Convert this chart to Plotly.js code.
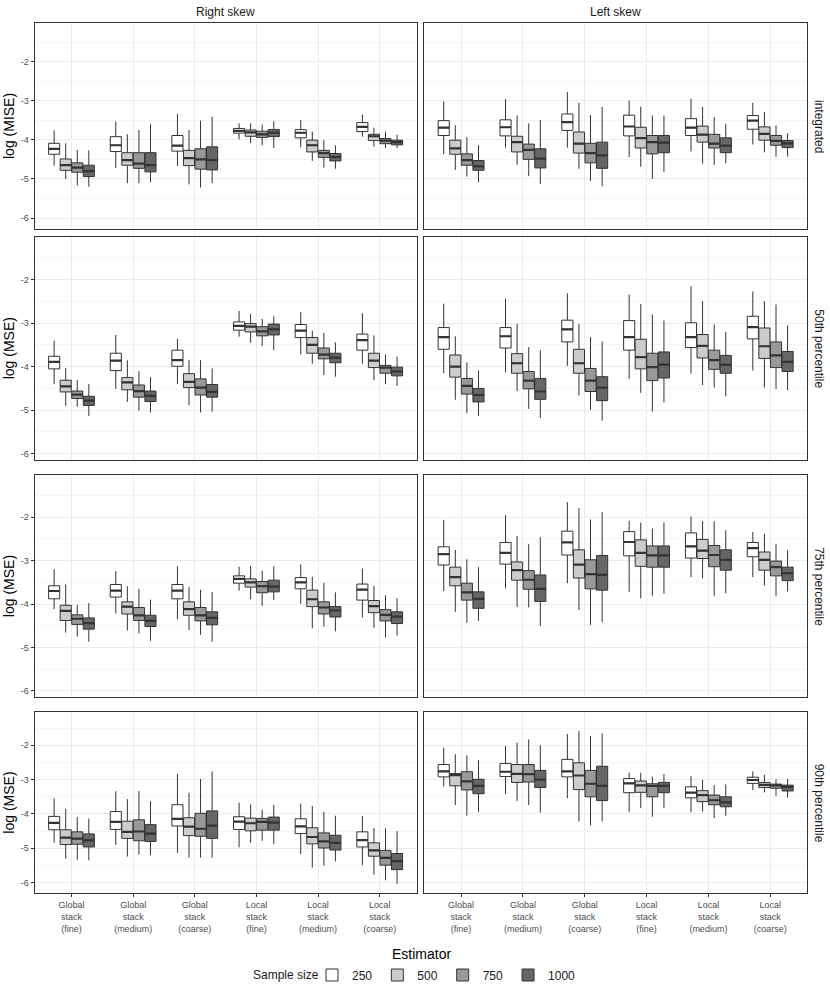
<!DOCTYPE html>
<html>
<head>
<meta charset="utf-8">
<script src="https://cdn.plot.ly/plotly-3.0.1.min.js"></script>
<style>html,body{margin:0;padding:0;background:#fff;} #chart{width:830px;height:997px;}</style>
</head>
<body>
<div id="chart"></div>
<script>
// ---------- categories / labels ----------
const estimators = ["Global stack (fine)", "Global stack (medium)", "Global stack (coarse)",
                    "Local stack (fine)", "Local stack (medium)", "Local stack (coarse)"];
const estimatorTickText = ["Global<br>stack<br>(fine)", "Global<br>stack<br>(medium)", "Global<br>stack<br>(coarse)",
                           "Local<br>stack<br>(fine)", "Local<br>stack<br>(medium)", "Local<br>stack<br>(coarse)"];
const sampleSizes = ["250", "500", "750", "1000"];
const skewLabels = ["Right skew", "Left skew"];
const targetLabels = ["integrated", "50th percentile", "75th percentile", "90th percentile"];
const yTitles = ["log (MISE)", "log (MSE)", "log (MSE)", "log (MSE)"];
const yTickVals = [-2, -3, -4, -5, -6];
const yTickText = ["-2", "-3", "-4", "-5", "-6"];

// ---------- box statistics: [lower whisker, Q1, median, Q3, upper whisker] per estimator ----------
// Right skew, integrated
const rightInt250  = [[-4.66,-4.37,-4.23,-4.09,-3.76],[-4.72,-4.30,-4.14,-3.92,-3.53],[-4.67,-4.29,-4.15,-3.89,-3.34],[-3.99,-3.83,-3.77,-3.71,-3.58],[-4.19,-3.95,-3.82,-3.74,-3.49],[-3.92,-3.79,-3.67,-3.56,-3.36]];
const rightInt500  = [[-5.00,-4.78,-4.65,-4.49,-4.09],[-5.11,-4.65,-4.52,-4.33,-3.86],[-5.14,-4.66,-4.47,-4.27,-3.75],[-4.09,-3.91,-3.81,-3.75,-3.58],[-4.54,-4.31,-4.14,-4.01,-3.79],[-4.18,-4.02,-3.91,-3.86,-3.69]];
const rightInt750  = [[-5.17,-4.83,-4.71,-4.59,-4.26],[-5.11,-4.73,-4.61,-4.33,-3.75],[-5.22,-4.75,-4.50,-4.23,-3.51],[-4.14,-3.94,-3.86,-3.78,-3.61],[-4.71,-4.45,-4.34,-4.27,-4.01],[-4.21,-4.10,-4.02,-3.97,-3.79]];
const rightInt1000 = [[-5.20,-4.94,-4.80,-4.65,-4.27],[-5.09,-4.82,-4.65,-4.33,-3.60],[-5.11,-4.77,-4.52,-4.18,-3.41],[-4.21,-3.92,-3.82,-3.74,-3.53],[-4.74,-4.54,-4.44,-4.35,-4.14],[-4.21,-4.13,-4.06,-4.01,-3.87]];
// Left skew, integrated
const leftInt250  = [[-4.37,-3.89,-3.69,-3.51,-3.02],[-4.20,-3.90,-3.68,-3.49,-2.96],[-4.20,-3.76,-3.55,-3.34,-2.78],[-4.44,-3.90,-3.66,-3.37,-3.00],[-4.30,-3.89,-3.69,-3.46,-2.95],[-4.12,-3.73,-3.51,-3.38,-3.05]];
const leftInt500  = [[-4.77,-4.37,-4.22,-4.01,-3.63],[-4.64,-4.31,-4.06,-3.91,-3.38],[-4.74,-4.34,-4.10,-3.80,-3.05],[-4.69,-4.21,-3.96,-3.68,-3.15],[-4.61,-4.06,-3.87,-3.65,-3.16],[-4.32,-4.01,-3.85,-3.67,-3.29]];
const leftInt750  = [[-4.94,-4.65,-4.52,-4.36,-3.93],[-4.93,-4.50,-4.26,-4.11,-3.58],[-5.05,-4.59,-4.34,-4.09,-3.37],[-5.00,-4.36,-4.06,-3.89,-3.38],[-4.64,-4.21,-4.10,-3.86,-3.42],[-4.43,-4.14,-4.03,-3.89,-3.63]];
const leftInt1000 = [[-5.09,-4.78,-4.68,-4.53,-4.14],[-5.13,-4.72,-4.48,-4.23,-3.49],[-5.19,-4.73,-4.40,-4.06,-3.16],[-4.82,-4.33,-4.07,-3.89,-3.38],[-4.60,-4.33,-4.15,-3.95,-3.59],[-4.43,-4.20,-4.09,-4.02,-3.83]];
// Right skew, 50th percentile
const rightP50_250  = [[-4.40,-4.05,-3.89,-3.76,-3.40],[-4.51,-4.09,-3.86,-3.69,-3.27],[-4.40,-3.99,-3.85,-3.62,-3.36],[-3.31,-3.16,-3.06,-2.97,-2.72],[-3.72,-3.33,-3.17,-3.03,-2.74],[-3.93,-3.62,-3.39,-3.25,-2.77]];
const rightP50_500  = [[-4.90,-4.58,-4.45,-4.31,-4.03],[-4.81,-4.53,-4.36,-4.25,-3.85],[-4.88,-4.48,-4.35,-4.16,-3.84],[-3.45,-3.20,-3.08,-3.01,-2.79],[-3.93,-3.69,-3.50,-3.33,-3.17],[-4.31,-4.02,-3.86,-3.69,-3.28]];
const rightP50_750  = [[-4.92,-4.73,-4.64,-4.56,-4.31],[-5.01,-4.70,-4.56,-4.42,-4.10],[-5.05,-4.65,-4.48,-4.28,-3.85],[-3.53,-3.29,-3.19,-3.08,-2.90],[-4.19,-3.82,-3.72,-3.57,-3.22],[-4.40,-4.15,-4.02,-3.97,-3.72]];
const rightP50_1000 = [[-5.13,-4.89,-4.78,-4.68,-4.40],[-5.05,-4.80,-4.67,-4.56,-4.24],[-5.03,-4.70,-4.58,-4.41,-4.04],[-3.62,-3.27,-3.14,-3.02,-2.84],[-4.23,-3.91,-3.79,-3.69,-3.44],[-4.44,-4.21,-4.11,-4.01,-3.77]];
// Left skew, 50th percentile
const leftP50_250  = [[-4.15,-3.60,-3.32,-3.10,-2.55],[-4.13,-3.57,-3.30,-3.10,-2.44],[-3.98,-3.43,-3.14,-2.93,-2.31],[-4.28,-3.62,-3.32,-2.94,-2.34],[-4.16,-3.56,-3.32,-2.99,-2.15],[-4.09,-3.36,-3.09,-2.84,-2.27]];
const leftP50_500  = [[-4.76,-4.24,-4.00,-3.73,-3.30],[-4.56,-4.15,-3.92,-3.70,-3.01],[-4.66,-4.15,-3.92,-3.60,-3.02],[-4.60,-4.05,-3.78,-3.37,-2.56],[-4.42,-3.80,-3.52,-3.26,-2.49],[-4.48,-3.81,-3.53,-3.11,-2.49]];
const leftP50_750  = [[-5.07,-4.63,-4.44,-4.27,-3.90],[-4.97,-4.51,-4.32,-4.11,-3.55],[-4.99,-4.57,-4.32,-4.04,-3.32],[-5.03,-4.32,-4.01,-3.69,-2.80],[-4.48,-4.06,-3.85,-3.62,-3.03],[-4.51,-4.02,-3.74,-3.43,-2.57]];
const leftP50_1000 = [[-5.13,-4.81,-4.65,-4.50,-4.09],[-5.18,-4.75,-4.57,-4.27,-3.62],[-5.24,-4.78,-4.48,-4.23,-3.42],[-4.82,-4.26,-3.95,-3.66,-2.94],[-4.68,-4.15,-3.96,-3.74,-3.20],[-4.54,-4.11,-3.89,-3.65,-3.05]];
// Right skew, 75th percentile
const rightP75_250  = [[-4.12,-3.88,-3.70,-3.58,-3.20],[-4.22,-3.84,-3.69,-3.55,-3.24],[-4.35,-3.88,-3.69,-3.55,-3.13],[-3.69,-3.52,-3.42,-3.35,-3.14],[-3.99,-3.65,-3.50,-3.39,-3.09],[-4.31,-3.91,-3.67,-3.54,-3.18]];
const rightP75_500  = [[-4.66,-4.38,-4.16,-4.03,-3.55],[-4.61,-4.23,-4.06,-3.95,-3.59],[-4.60,-4.26,-4.12,-3.95,-3.61],[-3.89,-3.61,-3.50,-3.42,-3.12],[-4.56,-4.06,-3.89,-3.68,-3.37],[-4.55,-4.20,-4.05,-3.92,-3.58]];
const rightP75_750  = [[-4.75,-4.47,-4.34,-4.25,-4.02],[-4.68,-4.38,-4.26,-4.08,-3.65],[-4.71,-4.39,-4.26,-4.08,-3.67],[-4.04,-3.74,-3.59,-3.48,-3.23],[-4.52,-4.23,-4.08,-3.95,-3.51],[-4.77,-4.39,-4.25,-4.13,-3.80]];
const rightP75_1000 = [[-4.87,-4.58,-4.44,-4.32,-3.98],[-4.85,-4.52,-4.39,-4.26,-3.90],[-4.87,-4.48,-4.32,-4.18,-3.72],[-3.91,-3.72,-3.60,-3.45,-3.13],[-4.63,-4.30,-4.15,-4.06,-3.73],[-4.73,-4.45,-4.29,-4.18,-3.87]];
// Left skew, 75th percentile
const leftP75_250  = [[-3.70,-3.10,-2.85,-2.68,-2.06],[-3.64,-3.08,-2.82,-2.58,-1.95],[-3.52,-2.87,-2.58,-2.32,-1.65],[-3.72,-2.89,-2.57,-2.33,-2.08],[-3.38,-2.94,-2.67,-2.36,-1.98],[-3.38,-2.91,-2.71,-2.58,-2.34]];
const leftP75_500  = [[-4.18,-3.58,-3.38,-3.15,-2.75],[-4.07,-3.45,-3.22,-3.03,-2.43],[-4.14,-3.40,-3.09,-2.75,-1.79],[-3.87,-3.13,-2.82,-2.52,-2.12],[-3.41,-2.95,-2.77,-2.51,-2.09],[-3.57,-3.22,-2.98,-2.80,-2.38]];
const leftP75_750  = [[-4.43,-3.91,-3.73,-3.52,-2.97],[-4.08,-3.66,-3.44,-3.23,-2.62],[-4.48,-3.65,-3.31,-2.98,-2.05],[-3.81,-3.15,-2.88,-2.66,-2.26],[-3.81,-3.14,-2.87,-2.65,-2.09],[-3.81,-3.35,-3.15,-3.01,-2.62]];
const leftP75_1000 = [[-4.39,-4.10,-3.88,-3.72,-3.15],[-4.51,-3.94,-3.65,-3.33,-2.46],[-4.42,-3.68,-3.33,-2.88,-1.88],[-3.76,-3.15,-2.88,-2.66,-2.12],[-3.75,-3.22,-2.98,-2.75,-2.30],[-3.71,-3.46,-3.29,-3.15,-2.76]];
// Right skew, 90th percentile
const rightP90_250  = [[-4.84,-4.46,-4.26,-4.07,-3.55],[-4.90,-4.45,-4.23,-3.93,-3.34],[-5.13,-4.35,-4.14,-3.73,-2.83],[-4.97,-4.45,-4.22,-4.08,-3.67],[-5.17,-4.57,-4.36,-4.14,-3.70],[-5.49,-4.96,-4.76,-4.52,-4.06]];
const rightP90_500  = [[-5.30,-4.89,-4.69,-4.46,-3.85],[-5.24,-4.71,-4.52,-4.21,-3.57],[-5.27,-4.63,-4.37,-4.11,-3.38],[-4.84,-4.49,-4.27,-4.12,-3.72],[-5.56,-4.87,-4.67,-4.40,-3.77],[-5.77,-5.23,-5.06,-4.84,-4.41]];
const rightP90_750  = [[-5.33,-4.88,-4.72,-4.52,-4.09],[-5.18,-4.78,-4.51,-4.17,-3.33],[-5.27,-4.65,-4.43,-3.98,-2.98],[-4.78,-4.47,-4.23,-4.13,-3.87],[-5.50,-4.99,-4.80,-4.55,-3.94],[-5.93,-5.49,-5.28,-5.06,-4.42]];
const rightP90_1000 = [[-5.35,-4.96,-4.77,-4.58,-4.13],[-5.20,-4.80,-4.57,-4.31,-3.63],[-5.27,-4.71,-4.34,-3.91,-2.76],[-4.87,-4.47,-4.25,-4.09,-3.74],[-5.38,-5.05,-4.84,-4.62,-4.05],[-6.03,-5.62,-5.37,-5.15,-4.50]];
// Left skew, 90th percentile
const leftP90_250  = [[-3.20,-2.92,-2.76,-2.56,-2.07],[-3.42,-2.91,-2.77,-2.53,-2.02],[-3.54,-2.92,-2.76,-2.41,-1.67],[-3.95,-3.38,-3.11,-2.97,-2.80],[-3.95,-3.53,-3.38,-3.21,-2.90],[-3.30,-3.11,-3.01,-2.93,-2.76]];
const leftP90_500  = [[-3.74,-3.18,-2.87,-2.82,-2.26],[-3.62,-3.08,-2.83,-2.56,-1.92],[-4.22,-3.29,-2.88,-2.51,-1.58],[-3.83,-3.37,-3.17,-3.04,-2.80],[-3.93,-3.64,-3.45,-3.32,-3.01],[-3.37,-3.23,-3.15,-3.08,-2.86]];
const leftP90_750  = [[-4.05,-3.30,-3.05,-2.77,-2.29],[-3.74,-3.07,-2.84,-2.56,-1.83],[-4.33,-3.50,-3.12,-2.73,-1.73],[-4.08,-3.50,-3.18,-3.12,-2.91],[-4.12,-3.73,-3.60,-3.45,-3.16],[-3.48,-3.25,-3.17,-3.13,-2.99]];
const leftP90_1000 = [[-3.94,-3.41,-3.18,-2.99,-2.43],[-3.96,-3.23,-3.00,-2.73,-2.00],[-4.22,-3.61,-3.18,-2.61,-1.65],[-3.83,-3.38,-3.18,-3.08,-2.84],[-4.05,-3.79,-3.66,-3.50,-3.14],[-3.52,-3.33,-3.21,-3.16,-2.98]];

// panels[row][col] -> [n250, n500, n750, n1000]
const panels = [
  [[rightInt250, rightInt500, rightInt750, rightInt1000], [leftInt250, leftInt500, leftInt750, leftInt1000]],
  [[rightP50_250, rightP50_500, rightP50_750, rightP50_1000], [leftP50_250, leftP50_500, leftP50_750, leftP50_1000]],
  [[rightP75_250, rightP75_500, rightP75_750, rightP75_1000], [leftP75_250, leftP75_500, leftP75_750, leftP75_1000]],
  [[rightP90_250, rightP90_500, rightP90_750, rightP90_1000], [leftP90_250, leftP90_500, leftP90_750, leftP90_1000]]
];

// ---------- styling / geometry (pixels of the 830x997 canvas) ----------
const W = 830, H = 997;
const fills = ["#FFFFFF", "#CCCCCC", "#999999", "#666666"];
const colPx = [[34.5, 416.7], [424.0, 807.3]];
const rowPx = [[23.3, 228.7], [237.0, 459.7], [475.0, 697.3], [712.0, 893.3]];
const yRanges = [[-6.273, -1.022], [-6.138, -1.018], [-6.152, -1.024], [-6.309, -1.031]];
const px = v => v / W;
const py = v => 1 - v / H;
const FONT = "Liberation Sans, Arial, sans-serif";

const data = [];
const layout = {
  width: W, height: H,
  margin: {l: 0, r: 0, t: 0, b: 0},
  paper_bgcolor: "#ffffff", plot_bgcolor: "#ffffff",
  font: {family: FONT, color: "#000"},
  boxmode: "group", boxgap: 0.25, boxgroupgap: 0.04,
  hovermode: false,
  showlegend: true,
  legend: {
    orientation: "h", x: px(312), xanchor: "left", y: py(975), yanchor: "middle",
    font: {family: FONT, size: 12, color: "#1a1a1a"},
    itemwidth: 30, tracegroupgap: 0, traceorder: "normal", bgcolor: "rgba(0,0,0,0)"
  },
  annotations: [], shapes: []
};

for (let r = 0; r < 4; r++) {
  for (let c = 0; c < 2; c++) {
    const k = r * 2 + c + 1;
    const xa = k === 1 ? "xaxis" : "xaxis" + k;
    const ya = k === 1 ? "yaxis" : "yaxis" + k;
    const xr = k === 1 ? "x" : "x" + k;
    const yr = k === 1 ? "y" : "y" + k;
    layout[xa] = {
      domain: [px(colPx[c][0]), px(colPx[c][1])],
      anchor: yr, type: "category", categoryorder: "array", categoryarray: estimators,
      range: [-0.6, 5.6], fixedrange: true,
      showgrid: true, gridcolor: "#EBEBEB", gridwidth: 1, zeroline: false,
      showline: true, mirror: true, linecolor: "#333333", linewidth: 1,
      ticks: r === 3 ? "outside" : "", ticklen: 3, tickcolor: "#333333", tickwidth: 1,
      showticklabels: r === 3,
      tickvals: estimators, ticktext: estimatorTickText,
      tickfont: {family: FONT, size: 9, color: "#4D4D4D"}
    };
    layout[ya] = {
      domain: [py(rowPx[r][1]), py(rowPx[r][0])],
      anchor: xr, range: yRanges[r], fixedrange: true,
      tickmode: "array", tickvals: yTickVals, ticktext: yTickText,
      showgrid: true, gridcolor: "#EBEBEB", gridwidth: 1, zeroline: false,
      minor: {tickmode: "array", tickvals: [-1.5, -2.5, -3.5, -4.5, -5.5], showgrid: true, gridcolor: "#EBEBEB", gridwidth: 0.5, ticks: ""},
      showline: true, mirror: true, linecolor: "#333333", linewidth: 1,
      ticks: c === 0 ? "outside" : "", ticklen: 3, tickcolor: "#333333", tickwidth: 1,
      showticklabels: c === 0,
      tickfont: {family: FONT, size: 9, color: "#4D4D4D"}
    };
    for (let s = 0; s < 4; s++) {
      const stats = panels[r][c][s];
      // the box, whiskers and outline
      data.push({
        type: "box", xaxis: xr, yaxis: yr,
        name: sampleSizes[s], legendgroup: sampleSizes[s],
        alignmentgroup: "panel" + k, offsetgroup: "n" + sampleSizes[s],
        showlegend: (r === 0 && c === 0),
        x: estimators,
        lowerfence: stats.map(d => d[0]),
        q1: stats.map(d => d[1]),
        median: stats.map(d => d[2]),
        q3: stats.map(d => d[3]),
        upperfence: stats.map(d => d[4]),
        boxpoints: false, whiskerwidth: 0,
        fillcolor: fills[s],
        line: {color: "#333333", width: 1.0},
        hoverinfo: "skip"
      });
    }
    // thicker median bars (ggplot style), drawn on top in the same dodge slots
    for (let s = 0; s < 4; s++) {
      const stats = panels[r][c][s];
      const med = stats.map(d => d[2]);
      data.push({
        type: "box", xaxis: xr, yaxis: yr,
        name: sampleSizes[s] + " median", legendgroup: sampleSizes[s],
        alignmentgroup: "panel" + k, offsetgroup: "n" + sampleSizes[s],
        showlegend: false,
        x: estimators,
        lowerfence: med, q1: med, median: med, q3: med, upperfence: med,
        boxpoints: false, whiskerwidth: 0,
        fillcolor: "rgba(0,0,0,0)",
        line: {color: "#333333", width: 2.2},
        hoverinfo: "skip"
      });
    }
  }
}

// legend title
layout.annotations.push({
  text: "Sample size", xref: "paper", yref: "paper",
  x: px(321), y: py(975), xanchor: "right", yanchor: "middle",
  showarrow: false, font: {family: FONT, size: 12, color: "#1A1A1A"}
});
// strip labels (top)
for (let c = 0; c < 2; c++) {
  layout.annotations.push({
    text: skewLabels[c], xref: "paper", yref: "paper",
    x: px((colPx[c][0] + colPx[c][1]) / 2), y: py(12), xanchor: "center", yanchor: "middle",
    showarrow: false, font: {family: FONT, size: 12, color: "#1A1A1A"}
  });
}
// strip labels (right) and y titles
for (let r = 0; r < 4; r++) {
  const yc = (rowPx[r][0] + rowPx[r][1]) / 2;
  layout.annotations.push({
    text: targetLabels[r], xref: "paper", yref: "paper",
    x: px(819), y: py(yc), xanchor: "center", yanchor: "middle", textangle: 90,
    showarrow: false, font: {family: FONT, size: 12, color: "#1A1A1A"}
  });
  layout.annotations.push({
    text: yTitles[r], xref: "paper", yref: "paper",
    x: px(9), y: py(yc), xanchor: "center", yanchor: "middle", textangle: -90,
    showarrow: false, font: {family: FONT, size: 14, color: "#000"}
  });
}
// x title
layout.annotations.push({
  text: "Estimator", xref: "paper", yref: "paper",
  x: px(421), y: py(954), xanchor: "center", yanchor: "middle",
  showarrow: false, font: {family: FONT, size: 14, color: "#000"}
});

Plotly.newPlot("chart", data, layout, {staticPlot: true, displayModeBar: false});
</script>
</body>
</html>
